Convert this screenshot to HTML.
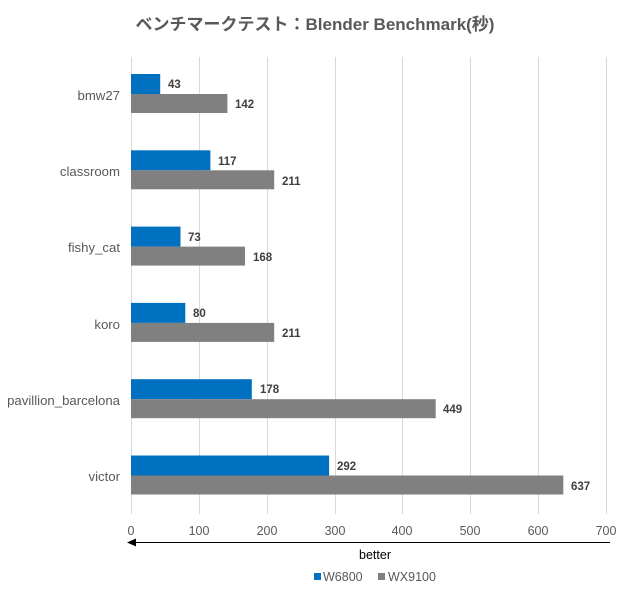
<!DOCTYPE html>
<html><head><meta charset="utf-8"><style>
html,body{margin:0;padding:0;background:#fff;}
svg{display:block;font-family:"Liberation Sans","Noto Sans CJK JP",sans-serif;}
</style></head><body>
<svg width="620" height="590" xmlns="http://www.w3.org/2000/svg">
<rect width="620" height="590" fill="#fff"/>
<text x="315" y="30" text-anchor="middle" font-size="17" font-weight="bold" fill="#595959">ベンチマークテスト：Blender Benchmark(秒)</text>
<g stroke="#d9d9d9" stroke-width="1">
<line x1="131.5" y1="57" x2="131.5" y2="514"/>
<line x1="199.5" y1="57" x2="199.5" y2="514"/>
<line x1="267.5" y1="57" x2="267.5" y2="514"/>
<line x1="335.5" y1="57" x2="335.5" y2="514"/>
<line x1="402.5" y1="57" x2="402.5" y2="514"/>
<line x1="470.5" y1="57" x2="470.5" y2="514"/>
<line x1="538.5" y1="57" x2="538.5" y2="514"/>
<line x1="606.5" y1="57" x2="606.5" y2="514"/>
</g>
<g font-size="13.2" fill="#595959" text-anchor="end">
<text x="120" y="100">bmw27</text>
<text x="120" y="176">classroom</text>
<text x="120" y="252">fishy_cat</text>
<text x="120" y="329">koro</text>
<text x="120" y="405">pavillion_barcelona</text>
<text x="120" y="481">victor</text>
</g>
<g>
<rect x="131" y="74" width="29.2" height="20" fill="#0070c0"/><rect x="131" y="94" width="96.4" height="19" fill="#808080"/>
<rect x="131" y="150.3" width="79.4" height="20" fill="#0070c0"/><rect x="131" y="170.3" width="143.2" height="19" fill="#808080"/>
<rect x="131" y="226.6" width="49.5" height="20" fill="#0070c0"/><rect x="131" y="246.6" width="114" height="19" fill="#808080"/>
<rect x="131" y="302.9" width="54.3" height="20" fill="#0070c0"/><rect x="131" y="322.9" width="143.2" height="19" fill="#808080"/>
<rect x="131" y="379.2" width="120.8" height="20" fill="#0070c0"/><rect x="131" y="399.2" width="304.7" height="19" fill="#808080"/>
<rect x="131" y="455.5" width="198.1" height="20" fill="#0070c0"/><rect x="131" y="475.5" width="432.3" height="19" fill="#808080"/>
</g>
<g font-size="11.5" font-weight="bold" fill="#404040">
<text x="168" y="88">43</text><text x="235" y="108">142</text>
<text x="218" y="165">117</text><text x="282" y="185">211</text>
<text x="188" y="241">73</text><text x="253" y="261">168</text>
<text x="193" y="317">80</text><text x="282" y="337">211</text>
<text x="260" y="393">178</text><text x="443" y="413">449</text>
<text x="337" y="470">292</text><text x="571" y="490">637</text>
</g>
<g font-size="12.5" fill="#595959" text-anchor="middle">
<text x="131" y="535">0</text><text x="199" y="535">100</text><text x="267" y="535">200</text><text x="335" y="535">300</text>
<text x="402" y="535">400</text><text x="470" y="535">500</text><text x="538" y="535">600</text><text x="606" y="535">700</text>
</g>
<line x1="132" y1="542.5" x2="610" y2="542.5" stroke="#000" stroke-width="1"/>
<polygon points="127,542.5 136,538.5 136,546.5" fill="#000"/>
<text x="375" y="559" font-size="12.5" fill="#000" text-anchor="middle">better</text>
<rect x="314" y="573" width="7" height="7" fill="#0070c0"/>
<text x="323" y="581" font-size="12.5" fill="#595959">W6800</text>
<rect x="378" y="573" width="7" height="7" fill="#808080"/>
<text x="388" y="581" font-size="12.5" fill="#595959">WX9100</text>
</svg>
</body></html>
